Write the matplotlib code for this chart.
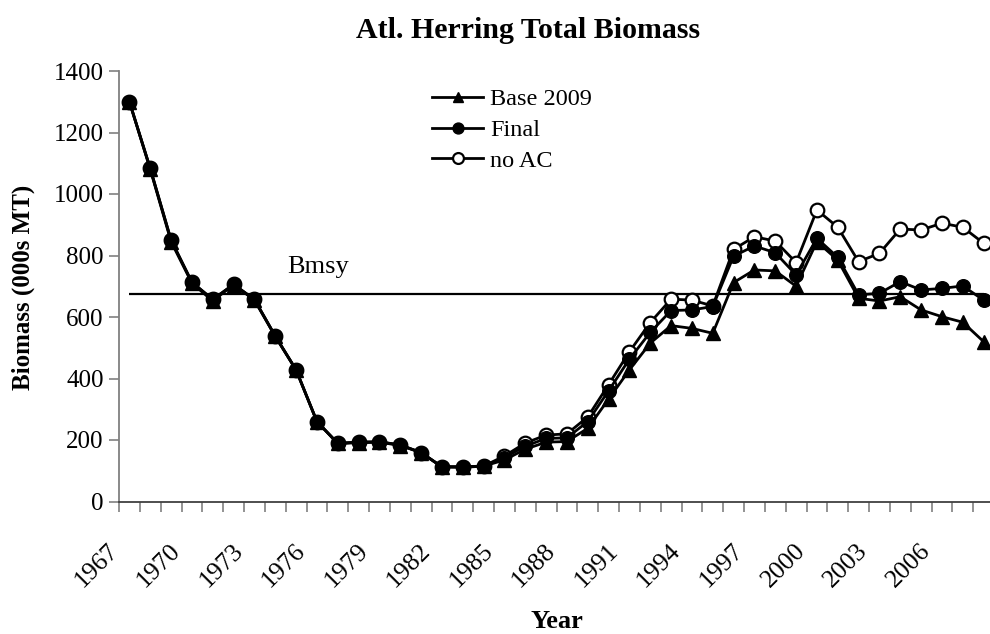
import matplotlib
matplotlib.use("Agg")
import matplotlib.pyplot as plt
from matplotlib.transforms import ScaledTranslation

plt.rcParams['font.family'] = ['Liberation Serif', 'DejaVu Serif']

years = list(range(1967, 2009))
base_2009 = [1300, 1080, 845, 710, 652, 705, 655, 537, 428, 260, 189, 191, 193, 182, 159, 112, 111, 115,
             135, 170, 193, 195, 238, 333, 428, 515, 572, 563, 547, 712, 753, 750, 700, 845, 785, 661,
             652, 666, 623, 601, 583, 520]
final = [1300, 1083, 850, 713, 657, 706, 657, 538, 428, 260, 189, 193, 194, 184, 159, 113, 113, 115,
         143, 180, 205, 207, 260, 360, 463, 550, 621, 623, 634, 798, 831, 809, 737, 856, 794, 672,
         677, 715, 688, 693, 701, 655]
no_ac = [1300, 1083, 850, 713, 657, 706, 657, 538, 428, 260, 189, 193, 194, 184, 159, 113, 113, 115,
         148, 190, 216, 220, 275, 380, 487, 582, 658, 655, 636, 820, 861, 847, 777, 948, 892, 780,
         807, 886, 883, 905, 892, 840]
bmsy = 674
label_years = list(range(1967, 2007, 3))
y_ticks = list(range(0, 1401, 200))

W, H = 990, 634
fig = plt.figure(figsize=(W / 100, H / 100), dpi=100)
left = 119 / W
right = 994 / W
bottom = (H - 501.5) / H
top = (H - 71) / H
ax = fig.add_axes([left, bottom, right - left, top - bottom])

lw = 2.0
ax.plot(years, no_ac, color='black', lw=lw, marker='o', ms=9.8, mfc='white', mec='black',
        mew=1.6, zorder=3, label='no AC')
ax.plot(years, base_2009, color='black', lw=lw, marker='^', ms=9.8, mfc='black', mec='black',
        zorder=4, label='Base 2009')
ax.plot(years, final, color='black', lw=lw, marker='o', ms=9.8, mfc='black', mec='black',
        zorder=5, label='Final')
ax.hlines(bmsy, years[0], years[-1], color='black', lw=1.6, zorder=2)
ax.text(1974.57, 744, 'Bmsy', fontsize=19, va='baseline', ha='left')

ax.set_xlim(years[0] - 0.5, years[-1] + 0.5)
ax.set_ylim(0, 1400)
ax.set_yticks(y_ticks)
ax.set_yticklabels([str(v) for v in y_ticks], fontsize=18)
ax.set_xticks(label_years)
ax.set_xticklabels([str(y) for y in label_years], fontsize=18.5, rotation=45,
                   ha='right', va='center', rotation_mode='anchor')
ax.set_xticks([y - 0.5 for y in years] + [years[-1] + 0.5], minor=True)
ax.tick_params(axis='x', which='major', length=0, pad=33)
ax.tick_params(axis='x', which='minor', length=7, direction='out', color='#808080', width=1.2)
ax.tick_params(axis='y', which='major', length=7, direction='out', color='#808080', width=1.2, pad=4)
for lab in ax.get_xticklabels():
    lab.set_transform(lab.get_transform() + ScaledTranslation(-15 / 100, 0, fig.dpi_scale_trans))

for s in ['top', 'right']:
    ax.spines[s].set_visible(False)
ax.spines['left'].set_color('#808080')
ax.spines['left'].set_linewidth(1.3)
ax.spines['bottom'].set_color('#404040')
ax.spines['bottom'].set_linewidth(1.3)

fig.text(0.533, 1 - 30 / H, 'Atl. Herring Total Biomass', fontsize=21.5, fontweight='bold',
         ha='center', va='center')
fig.text(23.5 / W, 1 - 287 / H, 'Biomass (000s MT)', fontsize=18, fontweight='bold',
         ha='center', va='center', rotation=90)
fig.text(557 / W, 1 - 621 / H, 'Year', fontsize=19, fontweight='bold', ha='center', va='center')

handles, labels = ax.get_legend_handles_labels()
order = [1, 2, 0]
leg = fig.legend([handles[i] for i in order], [labels[i] for i in order],
                 loc='center left', bbox_to_anchor=(432 / W, 1 - 130 / H),
                 bbox_transform=fig.transFigure, frameon=False, fontsize=17.5,
                 handlelength=2.1, handletextpad=0.3, labelspacing=0.35, borderpad=0,
                 borderaxespad=0, markerscale=0.8)

fig.savefig('out.png', dpi=100)
